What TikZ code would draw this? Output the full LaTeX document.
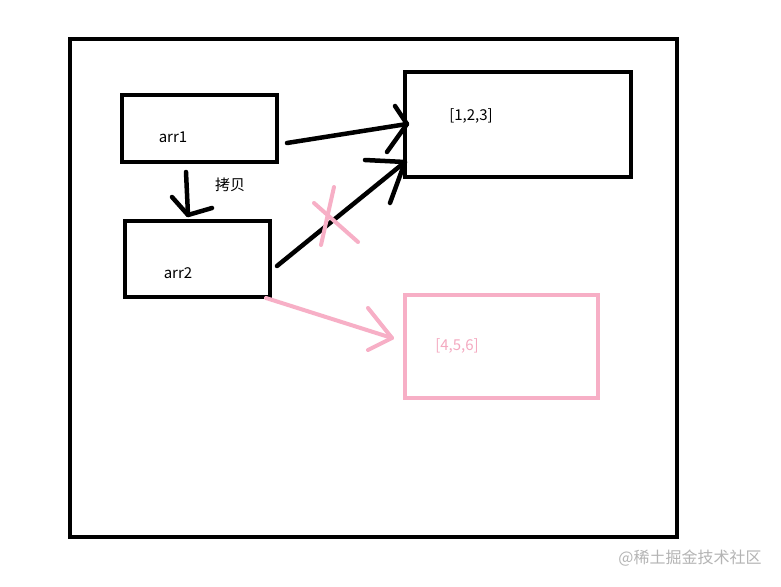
\documentclass[tikz,border=0pt]{standalone}
\usepackage{fontspec}
\setmainfont{Noto Sans CJK SC}
\newfontfamily\cjk{Noto Sans CJK SC}
\definecolor{pinkline}{HTML}{F7AFC6}
\definecolor{pinktext}{HTML}{F4A9C0}
\definecolor{wmgray}{HTML}{B4B4B4}
\begin{document}
\begin{tikzpicture}[x=1pt,y=-1pt,
  frame/.style={draw=black,line width=4pt},
  box/.style={draw=black,line width=4pt,inner sep=0pt},
  pinkbox/.style={draw=pinkline,line width=4pt,inner sep=0pt},
  stroke/.style={line width=4.5pt,line cap=round,line join=round},
  pstroke/.style={draw=pinkline,line width=4pt,line cap=round,line join=round},
  lbl/.style={font=\fontsize{15}{17}\selectfont,inner sep=0pt}]
\useasboundingbox (0,0) rectangle (781,586);
\fill[white] (0,0) rectangle (781,586);
% outer frame
\draw[frame] (70,39) rectangle (677,537);
% boxes
\node[box,minimum width=155pt,minimum height=67pt] (arr1) at (199.5,128.5) {};
\node[box,minimum width=226pt,minimum height=105pt] (v1) at (518,124.5) {};
\node[box,minimum width=145pt,minimum height=76pt] (arr2) at (197.5,259) {};
\node[pinkbox,minimum width=193pt,minimum height=103pt] (v2) at (501.5,346.5) {};
% labels
\node[lbl] (t1) at (173,137) {arr1};
\node[lbl] (t2) at (178,273) {arr2};
\node[lbl] (t3) at (471,116) {[1,2,3]};
\node[lbl,text=pinktext] (t4) at (457,346) {[4,5,6]};
\node[lbl] (tc) at (230,185) {\cjk 拷贝};
% connector end points
\coordinate (a1s) at (287,143);
\coordinate (a1t) at (407,124);
\coordinate (a2s) at (277,266);
\coordinate (a2t) at (405,162);
\coordinate (cps) at (186,172);
\coordinate (cpt) at (188,215);
\coordinate (ps) at (266,298);
\coordinate (pt) at (392,338);
% arr1 -> [1,2,3]
\draw[stroke] (a1s) -- (a1t);
\draw[stroke] (395,106) -- (a1t) -- (387,152);
% arr2 -> [1,2,3]
\draw[stroke] (a2s) -- (a2t);
\draw[stroke] (365,160) -- (a2t) -- (390,203);
% copy arrow
\draw[stroke] (cps) -- (cpt);
\draw[stroke] (172,197) -- (cpt) -- (212,208);
% pink cross
\draw[pstroke] (334,187) -- (321,245);
\draw[pstroke] (314,203) -- (358,242);
% pink arrow arr2 -> [4,5,6]
\draw[pstroke] (ps) -- (pt);
\draw[pstroke] (368,308) -- (pt) -- (368,350);
% watermark
\node[font=\fontsize{16}{18}\selectfont,text=wmgray,inner sep=0pt] (wm) at (690,558) {\cjk @稀土掘金技术社区};
\end{tikzpicture}
\end{document}
